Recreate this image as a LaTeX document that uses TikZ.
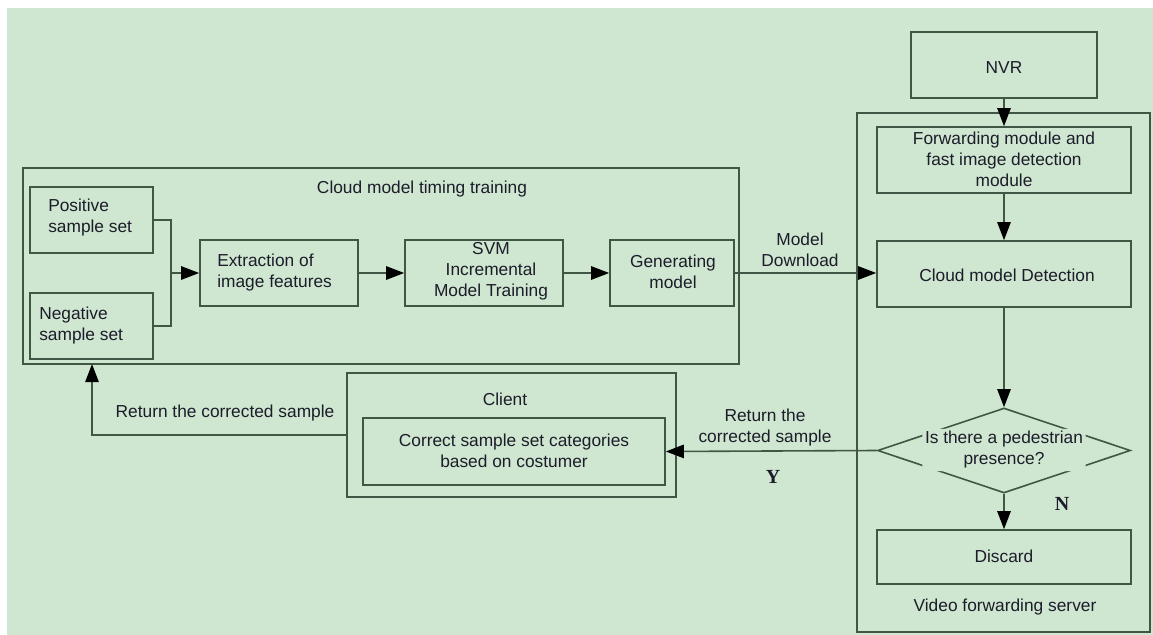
\documentclass[tikz,border=0pt]{standalone}
\usepackage{fontspec}
\setmainfont{Liberation Sans}
\newfontfamily\ynfont{Liberation Serif}
\usetikzlibrary{arrows.meta,fit,shapes.geometric}
\definecolor{bg}{RGB}{207,230,208}
\definecolor{edge}{RGB}{66,86,70}
\definecolor{ink}{RGB}{28,28,42}

\tikzset{
  frame/.style={draw=edge, line width=1.2pt, inner sep=0pt},
  box/.style={draw=edge, line width=1.2pt, inner sep=0pt},
  txt/.style={text=ink, font=\fontsize{13}{15.75}\selectfont, align=center, inner sep=0pt},
  ltxt/.style={txt, align=left, anchor=west},
  yn/.style={text=ink, font=\ynfont\bfseries\fontsize{15}{18}\selectfont, inner sep=0pt},
  conn/.style={draw=edge, line width=1.2pt},
  arr/.style={conn, -{Triangle[length=13.5pt, width=10pt, black]}},
}

\begin{document}
\begin{tikzpicture}[x=0.75pt, y=-0.75pt]
  % canvas
  \fill[white] (0,0) rectangle (1153,635);
  \fill[bg] (7,8) rectangle (1153,635);
  \useasboundingbox (0,0) rectangle (1153,635);

  % group frames
  \node[frame, fit={(23,168) (739,364)}] (train) {};
  \node[frame, fit={(857,113) (1150,632)}] (server) {};
  \node[frame, fit={(347,373) (676,497)}] (client) {};

  \node[txt] (traint) at (422,189) {Cloud model timing training};
  \node[txt] (servert) at (1005,607) {Video forwarding server};
  \node[txt] (clientt) at (505,399) {Client};

  % training pipeline
  \node[box, fit={(30,187) (153,253)}] (pos) {};
  \node[ltxt] (post) at (48,218) {Positive\\sample set};
  \node[box, fit={(30,293) (153,359)}] (neg) {};
  \node[ltxt] (negt) at (39,326) {Negative\\sample set};
  \node[box, fit={(200,240) (358,306)}] (ext) {};
  \node[ltxt] (extt) at (217,273) {Extraction of\\image features};
  \node[box, fit={(405,240) (563,306)}] (svm) {};
  \node[txt] (svmt) at (491,271) {SVM\\Incremental\\Model Training};
  \node[box, fit={(610,240) (734,306)}] (gen) {};
  \node[txt] (gent) at (673,272) {Generating\\model};

  % server side
  \node[box, fit={(911,32) (1097,98)}] (nvr) {};
  \node[txt] (nvrt) at (1004,68) {NVR};
  \node[box, fit={(877,127) (1131,193)}] (fwd) {};
  \node[txt] (fwdt) at (1004,159) {Forwarding module and\\fast image detection\\module};
  \node[box, fit={(877,241) (1131,307)}] (det) {};
  \node[txt] (dett) at (1007,275) {Cloud model Detection};
  \node[draw=edge, line width=1.2pt, shape=diamond, inner sep=0pt,
        minimum width=189.75pt, minimum height=63.75pt] (dia) at (1004,450.5) {};
  \node[txt, fill=bg, inner sep=2pt, rounded corners=4pt] (diat) at (1004,450) {Is there a pedestrian\\presence?};
  \node[box, fit={(877,530) (1131,584)}] (dis) {};
  \node[txt] (dist) at (1004,556) {Discard};

  % client box
  \node[box, fit={(363,418) (665,485)}] (corr) {};
  \node[txt] (corrt) at (514,451) {Correct sample set categories\\based on costumer};

  % connectors in the training group
  \coordinate (join) at (171,273);
  \draw[conn] (pos.east) -| (join);
  \draw[conn] (neg.east) -| (join);
  \draw[arr] (join) -- (ext.west);
  \draw[arr] (ext.east) -- (svm.west);
  \draw[arr] (svm.east) -- (gen.west);

  % model download to the server
  \draw[arr] (gen.east) -- (gen.east -| det.west);
  \node[txt] (dl) at (800,250) {Model\\Download};

  % server flow
  \draw[arr] (nvr.south) -- (fwd.north);
  \draw[arr] (fwd.south) -- (det.north);
  \draw[arr] (det.south) -- (dia.north);
  \draw[arr] (dia.south) -- (dis.north);
  \node[yn] (nlab) at (1062,504) {N};

  % corrected samples back to the client and to training
  \draw[arr] (dia.west) -- (corr.east);
  \node[txt] (rt1) at (765,428) {Return the\\corrected sample};
  \node[yn] (ylab) at (773,477) {Y};
  \coordinate (back) at (92,364);
  \draw[arr] (client.west) -| (back);
  \node[txt] (rt2) at (225,413) {Return the corrected sample};
\end{tikzpicture}
\end{document}
